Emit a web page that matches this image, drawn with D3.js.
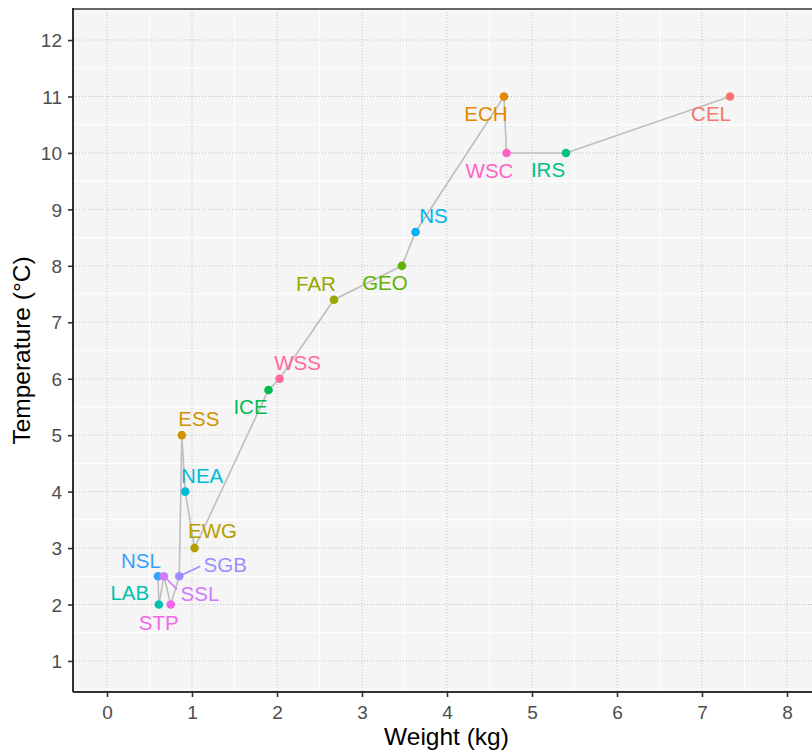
<!DOCTYPE html>
<html><head><meta charset="utf-8">
<script src="https://cdn.jsdelivr.net/npm/d3@7"></script>
<style>
body{margin:0;background:#fff;overflow:hidden}
text{font-family:"Liberation Sans",Arial,Helvetica,sans-serif}
</style></head>
<body><svg id="chart" width="812" height="753"></svg>
<script>
// ---- data ----
const codes   = ["CEL","ECH","ESS","EWG","FAR","GEO","ICE","IRS","LAB","NEA","NS","NSL","SGB","SSL","STP","WSC","WSS"];
const weights = [7.33, 4.67, 0.88, 1.03, 2.67, 3.47, 1.90, 5.40, 0.61, 0.92, 3.63, 0.60, 0.85, 0.67, 0.75, 4.70, 2.03];
const temps   = [11,   11,   5,    3,    7.4,  8,    5.8,  10,   2,    4,    8.6,  2.5,  2.5,  2.5,  2,    10,   6];
const xTickValues = [0,1,2,3,4,5,6,7,8];
const yTickValues = [1,2,3,4,5,6,7,8,9,10,11,12];
const xTitle = "Weight (kg)";
const yTitle = "Temperature (°C)";

// ---- style ----
const palette = ["#F8766D","#E58700","#D29300","#B69E00","#97A800","#60B200","#00BB4E","#00C087",
                 "#00C0B1","#00BCD6","#00B2F3","#37A1FF","#9A8EFF","#D07AFC","#F266E8","#FF61C7","#FF6A98"];
// label placement (text centre offset from point, px) mimicking the repelled labels
const labelOffset = {
  CEL:[-19,17], ECH:[-18,17], WSC:[-17,18], IRS:[-18,17], NS:[18,-16], GEO:[-17,17],
  FAR:[-18,-16], WSS:[18,-16], ICE:[-18,17], ESS:[17,-16], NEA:[17,-16], EWG:[18,-17],
  SGB:[46,-12], NSL:[-17,-16], SSL:[36,17], LAB:[-29,-12], STP:[-12,18]
};
const segments = {SGB:[21,-10], SSL:[13,13]};

const panel = {left:73, top:9, right:821, bottom:692};
const svg = d3.select("#chart");

const x = d3.scaleLinear().domain([-0.4, 8.4]).range([panel.left, panel.right]);
const y = d3.scaleLinear().domain([0.45, 12.55]).range([panel.bottom, panel.top]);

const data = codes.map((c,i)=>({code:c, w:weights[i], t:temps[i], color:palette[i]}));

// panel background
svg.append("rect").attr("x",panel.left).attr("y",panel.top)
  .attr("width",panel.right-panel.left).attr("height",panel.bottom-panel.top)
  .attr("fill","#F5F5F5");

// minor grid (white)
const xMinor = xTickValues.slice(0,-1).map(v=>v+0.5);
const yMinor = [0.5].concat(yTickValues.map(v=>v+0.5));
svg.append("g").selectAll("line").data(xMinor).join("line")
  .attr("x1",d=>x(d)).attr("x2",d=>x(d)).attr("y1",panel.top).attr("y2",panel.bottom)
  .attr("stroke","#FFFFFF").attr("stroke-width",1.1);
svg.append("g").selectAll("line").data(yMinor).join("line")
  .attr("y1",d=>y(d)).attr("y2",d=>y(d)).attr("x1",panel.left).attr("x2",panel.right)
  .attr("stroke","#FFFFFF").attr("stroke-width",1.1);

// major grid (dotted)
svg.append("g").selectAll("line").data(xTickValues).join("line")
  .attr("x1",d=>x(d)).attr("x2",d=>x(d)).attr("y1",panel.top).attr("y2",panel.bottom)
  .attr("stroke","#C4C4C4").attr("stroke-width",1).attr("stroke-dasharray","1,2");
svg.append("g").selectAll("line").data(yTickValues).join("line")
  .attr("y1",d=>y(d)).attr("y2",d=>y(d)).attr("x1",panel.left).attr("x2",panel.right)
  .attr("stroke","#C4C4C4").attr("stroke-width",1).attr("stroke-dasharray","1,2");

// line (geom_line: sorted by x)
const sorted = data.slice().sort((a,b)=>a.w-b.w);
svg.append("path").datum(sorted)
  .attr("d", d3.line().x(d=>x(d.w)).y(d=>y(d.t)))
  .attr("fill","none").attr("stroke","#BEBEBE").attr("stroke-width",1.6);

// label segments
svg.append("g").selectAll("line").data(data.filter(d=>segments[d.code])).join("line")
  .attr("x1",d=>x(d.w)).attr("y1",d=>y(d.t))
  .attr("x2",d=>x(d.w)+segments[d.code][0]).attr("y2",d=>y(d.t)+segments[d.code][1])
  .attr("stroke",d=>d.color).attr("stroke-width",1.6);

// points
svg.append("g").selectAll("circle").data(data).join("circle")
  .attr("cx",d=>x(d.w)).attr("cy",d=>y(d.t)).attr("r",4.3).attr("fill",d=>d.color);

// labels
svg.append("g").selectAll("text").data(data).join("text")
  .attr("x",d=>x(d.w)+labelOffset[d.code][0])
  .attr("y",d=>y(d.t)+labelOffset[d.code][1]+7.3)
  .attr("text-anchor","middle").attr("font-size",20.5)
  .attr("fill",d=>d.color).text(d=>d.code);

// top border
svg.append("line").attr("x1",panel.left).attr("x2",panel.right).attr("y1",panel.top).attr("y2",panel.top)
  .attr("stroke","#666666").attr("stroke-width",1.8);

// axes
const xAxis = d3.axisBottom(x).tickValues(xTickValues).tickSize(5).tickPadding(6).tickFormat(d3.format("d"));
const yAxis = d3.axisLeft(y).tickValues(yTickValues).tickSize(5).tickPadding(6).tickFormat(d3.format("d"));
const gx = svg.append("g").attr("transform",`translate(0,${panel.bottom})`).call(xAxis);
const gy = svg.append("g").attr("transform",`translate(${panel.left},0)`).call(yAxis);
[gx,gy].forEach(g=>{
  g.select(".domain").remove();
  g.selectAll(".tick line").attr("stroke","#333333").attr("stroke-width",1.6);
  g.selectAll(".tick text").attr("fill","#4D4D4D").attr("font-size",19)
    .attr("font-family","'Liberation Sans',Arial,sans-serif");
});
gx.selectAll(".tick text").attr("dy","0.85em");
gy.selectAll(".tick text").attr("dy","0.35em");
// axis lines
svg.append("line").attr("x1",panel.left).attr("x2",panel.left).attr("y1",panel.top-0.9).attr("y2",panel.bottom)
  .attr("stroke","#1A1A1A").attr("stroke-width",1.8);
svg.append("line").attr("x1",panel.left).attr("x2",panel.right).attr("y1",panel.bottom).attr("y2",panel.bottom)
  .attr("stroke","#333333").attr("stroke-width",1.8);

// titles
svg.append("text").attr("x",(panel.left+panel.right)/2 - 0.5).attr("y",745)
  .attr("text-anchor","middle").attr("font-size",24.5).attr("fill","#000").text(xTitle);
svg.append("text").attr("transform",`translate(30,${(panel.top+panel.bottom)/2}) rotate(-90)`)
  .attr("text-anchor","middle").attr("font-size",24.5).attr("fill","#000").text(yTitle);
</script></body></html>
